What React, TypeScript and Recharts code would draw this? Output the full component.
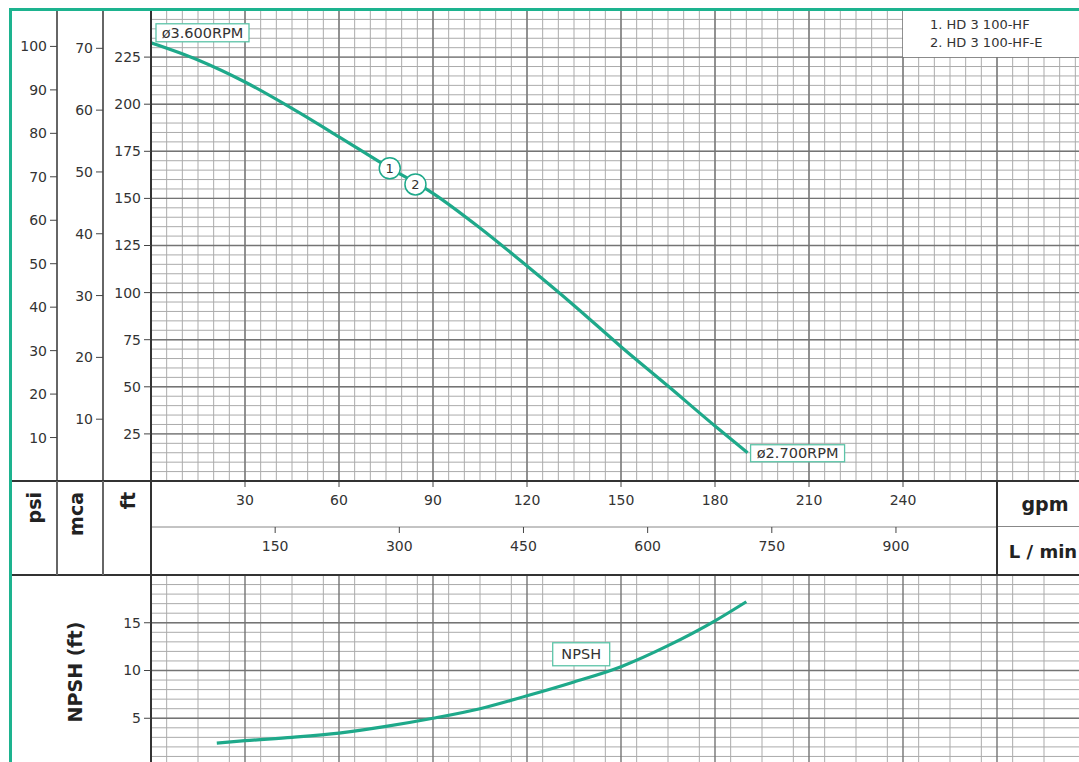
import React from "react";
import {
  CartesianGrid,
  ComposedChart,
  Line,
  ReferenceDot,
  XAxis,
  YAxis,
} from "recharts";

// head curve (gpm -> ft)
const headGpm = [0, 15, 30, 45, 60, 75, 90, 105, 120, 135, 150, 165, 180, 190.4];
const headFt = [232.6, 223.5, 211.8, 197.8, 182.7, 167.3, 152.7, 134.3, 114.1, 93.2, 71.3, 50.4, 29.2, 15.0];
const rpmTags = ["ø3.600RPM", "ø2.700RPM"];

// numbered markers on the curve
const markerIds = ["1", "2"];
const markerGpm = [76.2, 84.4];
const markerFt = [166.0, 157.4];

// NPSH curve
const npshGpm = [21, 30, 45, 60, 75, 90, 105, 120, 135, 150, 165, 180, 190];
const npshFt = [2.4, 2.65, 3.0, 3.45, 4.15, 5.0, 6.0, 7.35, 8.8, 10.4, 12.6, 15.2, 17.2];
const npshTagGpm = 137.3;
const npshTagFt = 11.7;

// axis ticks
const gpmTicks = [30, 60, 90, 120, 150, 180, 210, 240];
const lpmTicks = [150, 300, 450, 600, 750, 900];
const ftTicks = [25, 50, 75, 100, 125, 150, 175, 200, 225];
const mcaTicks = [10, 20, 30, 40, 50, 60, 70];
const psiTicks = [10, 20, 30, 40, 50, 60, 70, 80, 90, 100];
const npshTicks = [5, 10, 15];
const legendItems = ["1. HD 3 100-HF", "2. HD 3 100-HF-E"];

const GPM_MAX = 300;
const FT_MAX = 250;
const LPM_PER_GPM = 3.7854;
const FT_PER_PSI = 2.3067;
const FT_PER_M = 3.2808;

const GREEN = "#1ea98a";
const TEXT = "#333";

const steps = (max: number, step: number) =>
  Array.from({ length: Math.round(max / step) + 1 }, (_, i) => i * step);

// same curve expressed in the secondary units, so every axis has a series
const headData = headGpm.map((g, i) => ({
  gpm: g,
  lpm: g * LPM_PER_GPM,
  ft: headFt[i],
  mca: headFt[i] / FT_PER_M,
  psi: headFt[i] / FT_PER_PSI,
}));
const npshData = npshGpm.map((g, i) => ({ gpm: g, npsh: npshFt[i] }));

const tickStyle = { fill: TEXT, fontSize: 14 };

function TagBox(props: any) {
  const { cx, cy, text, dx, dy, w, h, center } = props;
  if (cx == null || cy == null) return null;
  const left = center ? cx - w / 2 : cx + dx;
  const top = center ? cy - h / 2 : cy + dy;
  return (
    <g>
      <rect x={left} y={top} width={w} height={h} fill="#fff" stroke="#5cc4a8" strokeWidth={1.3} />
      <text
        x={left + w / 2}
        y={top + h / 2}
        textAnchor="middle"
        dominantBaseline="central"
        fontSize={14.5}
        fill={TEXT}
      >
        {text}
      </text>
    </g>
  );
}

function Marker(props: any) {
  const { cx, cy, id } = props;
  if (cx == null || cy == null) return null;
  return (
    <g>
      <circle cx={cx} cy={cy} r={10.5} fill="#fff" stroke={GREEN} strokeWidth={1.5} />
      <text x={cx} y={cy} textAnchor="middle" dominantBaseline="central" fontSize={13} fill={TEXT}>
        {id}
      </text>
    </g>
  );
}

const yAxisCommon = {
  type: "number" as const,
  interval: 0,
  tickSize: 7,
  tickMargin: 3,
  tick: tickStyle,
  tickLine: { stroke: "#444" },
  allowDataOverflow: true,
};

export default function App() {
  const last = headData.length - 1;
  return (
    <div
      style={{
        position: "absolute",
        left: 0,
        top: 0,
        width: 1079,
        height: 762,
        overflow: "hidden",
        background: "#fff",
        fontFamily: "'DejaVu Sans', sans-serif",
      }}
    >
      {/* head chart with the gpm / L/min band */}
      <div style={{ position: "absolute", left: 0, top: 0 }}>
        <ComposedChart
          width={1091}
          height={575}
          data={headData}
          margin={{ top: 10, right: 0, bottom: 0, left: 10 }}
        >
          <XAxis
            xAxisId="gpm"
            dataKey="gpm"
            type="number"
            domain={[0, GPM_MAX]}
            allowDataOverflow
            ticks={gpmTicks}
            interval={0}
            height={46}
            tickSize={6}
            tickMargin={8}
            tick={tickStyle}
            tickLine={{ stroke: "#444" }}
            axisLine={{ stroke: "#333", strokeWidth: 2 }}
          />
          <XAxis
            xAxisId="lpm"
            dataKey="lpm"
            type="number"
            domain={[0, GPM_MAX * LPM_PER_GPM]}
            allowDataOverflow
            ticks={lpmTicks}
            interval={0}
            height={48}
            tickSize={6}
            tickMargin={8}
            tick={tickStyle}
            tickLine={{ stroke: "#444" }}
            axisLine={{ stroke: "#888", strokeWidth: 1 }}
          />
          <YAxis
            {...yAxisCommon}
            yAxisId="ft"
            domain={[0, FT_MAX]}
            ticks={ftTicks}
            width={48}
            axisLine={{ stroke: "#333", strokeWidth: 2 }}
          />
          <YAxis
            {...yAxisCommon}
            yAxisId="mca"
            domain={[0, FT_MAX / FT_PER_M]}
            ticks={mcaTicks}
            width={46}
            axisLine={{ stroke: "#666", strokeWidth: 2 }}
          />
          <YAxis
            {...yAxisCommon}
            yAxisId="psi"
            domain={[0, FT_MAX / FT_PER_PSI]}
            ticks={psiTicks}
            width={47}
            axisLine={{ stroke: "#666", strokeWidth: 2 }}
          />
          <CartesianGrid
            xAxisId="gpm"
            yAxisId="ft"
            verticalValues={steps(GPM_MAX, 5)}
            horizontalValues={steps(FT_MAX, 5)}
            stroke="#ababab"
            strokeWidth={1}
          />
          <CartesianGrid
            xAxisId="gpm"
            yAxisId="ft"
            verticalValues={steps(GPM_MAX, 30)}
            horizontalValues={steps(FT_MAX, 25)}
            stroke="#747474"
            strokeWidth={1.4}
          />
          {/* invisible twins that tie the secondary axes to the data */}
          <Line xAxisId="lpm" yAxisId="mca" dataKey="mca" stroke="transparent" dot={false} activeDot={false} isAnimationActive={false} />
          <Line xAxisId="lpm" yAxisId="psi" dataKey="psi" stroke="transparent" dot={false} activeDot={false} isAnimationActive={false} />
          <Line
            xAxisId="gpm"
            yAxisId="ft"
            dataKey="ft"
            type="monotone"
            stroke={GREEN}
            strokeWidth={3.2}
            dot={false}
            isAnimationActive={false}
          />
          <ReferenceDot
            xAxisId="gpm"
            yAxisId="ft"
            x={headData[0].gpm}
            y={headData[0].ft}
            shape={(p: any) => <TagBox {...p} text={rpmTags[0]} dx={5} dy={-19} w={93} h={18} />}
          />
          <ReferenceDot
            xAxisId="gpm"
            yAxisId="ft"
            x={headData[last].gpm}
            y={headData[last].ft}
            shape={(p: any) => <TagBox {...p} text={rpmTags[1]} dx={3} dy={-8} w={94} h={17} />}
          />
          {markerIds.map((id, i) => (
            <ReferenceDot
              key={id}
              xAxisId="gpm"
              yAxisId="ft"
              x={markerGpm[i]}
              y={markerFt[i]}
              shape={(p: any) => <Marker {...p} id={id} />}
            />
          ))}
        </ComposedChart>
      </div>

      {/* NPSH chart */}
      <div style={{ position: "absolute", left: 0, top: 575 }}>
        <ComposedChart
          width={1091}
          height={191}
          data={npshData}
          margin={{ top: 0, right: 0, bottom: 0, left: 10 }}
        >
          <XAxis dataKey="gpm" type="number" domain={[0, GPM_MAX]} allowDataOverflow hide height={0} />
          <YAxis
            {...yAxisCommon}
            domain={[0, 20]}
            ticks={npshTicks}
            width={141}
            axisLine={{ stroke: "#333", strokeWidth: 2 }}
          />
          <CartesianGrid
            verticalValues={steps(GPM_MAX, 5)}
            horizontalValues={steps(20, 1)}
            stroke="#ababab"
            strokeWidth={1}
          />
          <CartesianGrid
            verticalValues={steps(GPM_MAX, 30)}
            horizontalValues={steps(20, 5)}
            stroke="#747474"
            strokeWidth={1.4}
          />
          <Line
            dataKey="npsh"
            type="monotone"
            stroke={GREEN}
            strokeWidth={3.2}
            dot={false}
            isAnimationActive={false}
          />
          <ReferenceDot
            x={npshTagGpm}
            y={npshTagFt}
            shape={(p: any) => <TagBox {...p} text="NPSH" center w={57} h={23} />}
          />
        </ComposedChart>
      </div>

      {/* band frame lines */}
      <div style={{ position: "absolute", left: 12, top: 480, width: 1067, height: 2, background: "#333" }} />
      <div style={{ position: "absolute", left: 12, top: 574, width: 1067, height: 2, background: "#333" }} />
      <div style={{ position: "absolute", left: 56, top: 481, width: 2, height: 94, background: "#666" }} />
      <div style={{ position: "absolute", left: 102, top: 481, width: 2, height: 94, background: "#666" }} />
      <div style={{ position: "absolute", left: 150, top: 481, width: 2, height: 94, background: "#333" }} />
      <div
        style={{
          position: "absolute",
          left: 996,
          top: 482,
          width: 100,
          height: 92,
          background: "#fff",
          borderLeft: "2px solid #333",
        }}
      >
        <div style={{ position: "absolute", left: 0, top: 44, width: 100, height: 1, background: "#888" }} />
      </div>

      {/* legend */}
      <div
        style={{
          position: "absolute",
          left: 903,
          top: 11,
          width: 176,
          height: 46,
          background: "#fff",
          boxSizing: "border-box",
          paddingLeft: 27,
          paddingTop: 5,
          fontSize: 13,
          lineHeight: "18px",
          color: TEXT,
        }}
      >
        {legendItems.map((t) => (
          <div key={t}>{t}</div>
        ))}
      </div>

      {/* unit labels */}
      <svg
        width={1079}
        height={762}
        style={{ position: "absolute", left: 0, top: 0, pointerEvents: "none" }}
        fontFamily="'DejaVu Sans', sans-serif"
      >
        <g fontWeight="bold" fontSize={19} fill="#222">
          <text transform="translate(34,492) rotate(-90)" textAnchor="end" dominantBaseline="central">psi</text>
          <text transform="translate(76,492) rotate(-90)" textAnchor="end" dominantBaseline="central">mca</text>
          <text transform="translate(128,492) rotate(-90)" textAnchor="end" dominantBaseline="central">ft</text>
          <text x={1045} y={504} textAnchor="middle" dominantBaseline="central">gpm</text>
          <text x={1043} y={551} fontSize={18} textAnchor="middle" dominantBaseline="central">L / min</text>
          <text transform="translate(75,672) rotate(-90)" textAnchor="middle" dominantBaseline="central">NPSH (ft)</text>
        </g>
      </svg>

      {/* green frame */}
      <div style={{ position: "absolute", left: 9, top: 8, width: 1070, height: 3, background: "#1db38f" }} />
      <div style={{ position: "absolute", left: 9, top: 8, width: 3, height: 754, background: "#1db38f" }} />
    </div>
  );
}
